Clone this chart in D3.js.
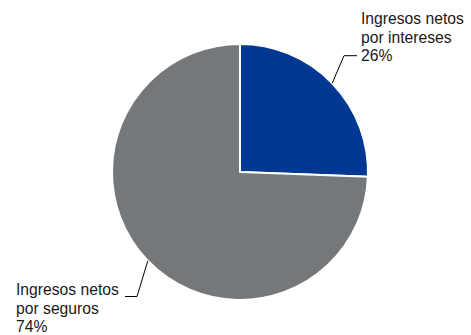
<!DOCTYPE html>
<html>
<head>
<meta charset="utf-8">
<script src="https://cdn.jsdelivr.net/npm/d3@7/dist/d3.min.js"></script>
<style>
  html, body { margin: 0; padding: 0; background: #fff; }
  svg { display: block; }
  text { font-family: "Liberation Sans", Arial, sans-serif; fill: #1a1a1a; }
</style>
</head>
<body>
<script>
const categories = ["Ingresos netos por intereses", "Ingresos netos por seguros"];
const labelLines = [["Ingresos netos", "por intereses"], ["Ingresos netos", "por seguros"]];
const values = [25.6, 74.4];
const colors = ["#003893", "#75787b"];

const W = 471, H = 335;
const cx = 240, cy = 172, R = 128;
const fontSize = 15.7, lineH = 18.6;

const svg = d3.select("body").append("svg").attr("width", W).attr("height", H);
const g = svg.append("g").attr("transform", `translate(${cx},${cy})`);

const data = categories.map((c, i) => ({ name: c, value: values[i], color: colors[i], lines: labelLines[i] }));
const pie = d3.pie().value(d => d.value).sort(null);
const arc = d3.arc().innerRadius(0).outerRadius(R);
const arcs = pie(data);

g.selectAll("path.slice").data(arcs).join("path")
  .attr("class", "slice")
  .attr("d", arc)
  .attr("fill", d => d.data.color)
  .attr("stroke", "#fff")
  .attr("stroke-width", 2)
  .attr("stroke-linejoin", "round");

// label layout (absolute positions of text blocks)
const labelPos = [
  { x: 361, y: 24, anchor: "start", side: "right" },
  { x: 16, y: 295, anchor: "start", side: "left" }
];

const fmt = v => Math.round(v) + "%";

arcs.forEach((a, i) => {
  const lp = labelPos[i];
  const mid = (a.startAngle + a.endAngle) / 2;
  const px = cx + Math.sin(mid) * R, py = cy - Math.cos(mid) * R;
  let hx0, hx1, hy;
  if (lp.side === "right") {
    hy = lp.y + 2 * lineH - 5.5;
    hx1 = lp.x - 4;
    hx0 = lp.x - 17;
  } else {
    hy = lp.y + 1.5;
    hx0 = lp.x + 109;
    hx1 = lp.x + 121;
  }
  const elbowX = lp.side === "right" ? hx0 : hx1;
  svg.append("polyline")
    .attr("points", `${px},${py} ${elbowX},${hy} ${lp.side === "right" ? hx1 : hx0},${hy}`)
    .attr("fill", "none").attr("stroke", "#000").attr("stroke-width", 1);

  const t = svg.append("text").attr("x", lp.x).attr("y", lp.y)
    .attr("font-size", fontSize).attr("text-anchor", lp.anchor);
  a.data.lines.concat([fmt(a.data.value)]).forEach((ln, j) => {
    t.append("tspan").attr("x", lp.x).attr("y", lp.y + j * lineH).text(ln);
  });
});
</script>
</body>
</html>
